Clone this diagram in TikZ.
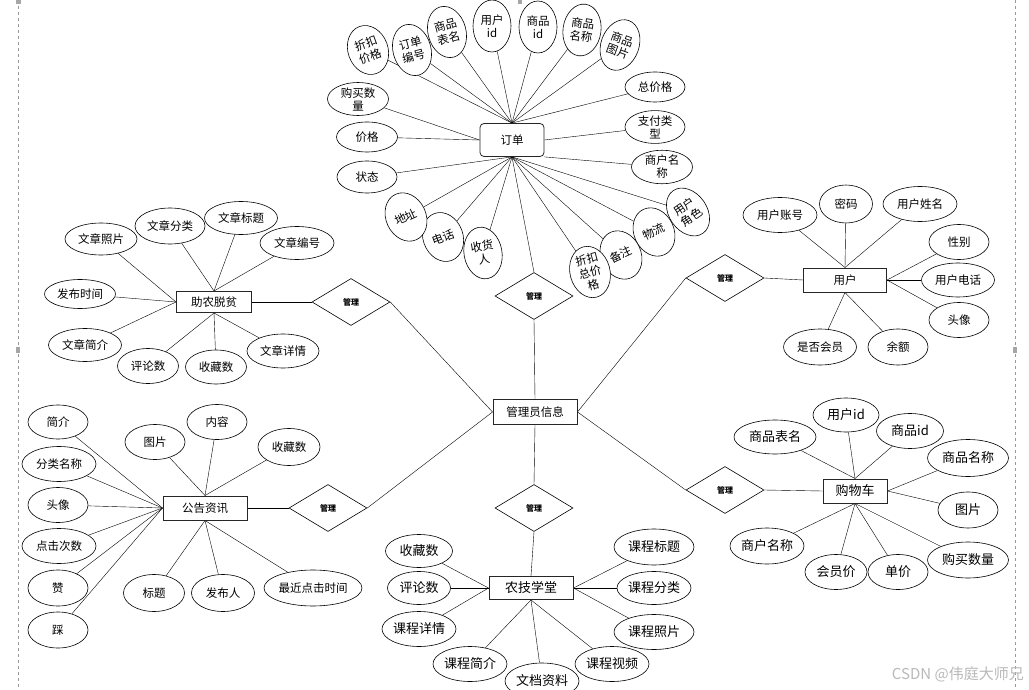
\documentclass[tikz,border=0pt]{standalone}
\usepackage{fontspec}
\newfontfamily\cjk{Noto Sans CJK SC}
\usetikzlibrary{shapes.geometric,backgrounds}
\newcommand\myfa{\cjk\fontsize{11.5}{13}\selectfont}
\newcommand\myfb{\cjk\fontsize{13}{15}\selectfont}
\begin{document}
\begin{tikzpicture}[x=1pt,y=-1pt,
  attr/.style n args={2}{ellipse, draw, line width=0.6pt, fill=white, inner sep=0pt,
     minimum width=#1, minimum height=#2, align=center, font=\myfa},
  ent/.style={rectangle, draw=black!85, line width=1pt, fill=white, inner sep=0pt, align=center, font=\myfa},
  rel/.style={diamond, draw, line width=0.6pt, fill=white, inner sep=0pt, minimum width=78pt, minimum height=47pt,
     font=\cjk\bfseries\fontsize{8}{9}\selectfont},
  conn/.style={line width=0.6pt}]
\useasboundingbox (0,0) rectangle (1029,690);

% ---------------- order
\node[ent, rounded corners=4pt, minimum width=64pt, minimum height=33pt, line width=0.8pt] (ord) at (512,140) {订单};
\node[attr={40pt}{50pt}, rotate=20] (zk1) at (368,50) {折扣\\价格};
\node[attr={38pt}{52pt}, rotate=15] (ddbh) at (412,50) {订单\\编号};
\node[attr={38pt}{52pt}, rotate=15] (spbm) at (447,32) {商品\\表名};
\node[attr={38pt}{52pt}] (yhid) at (492,26) {用户\\id};
\node[attr={38pt}{52pt}] (spid) at (538,27) {商品\\id};
\node[attr={38pt}{52pt}, rotate=-8] (spmc) at (582,30) {商品\\名称};
\node[attr={38pt}{52pt}, rotate=-20] (sptp) at (620,45) {商品\\图片};
\node[attr={60pt}{30pt}] (zjg) at (655,87) {总价格};
\node[attr={60pt}{31pt}] (zflx) at (655,127) {支付类\\型};
\node[attr={61pt}{32pt}] (shmc) at (662,167) {商户名\\称};
\node[attr={38pt}{52pt}, rotate=35] (yhjs) at (688,212) {用户\\角色};
\node[attr={40pt}{50pt}, rotate=25] (wl) at (654,232) {物流};
\node[attr={40pt}{50pt}, rotate=25] (bz) at (621,255) {备注};
\node[attr={40pt}{52pt}, rotate=15] (zkzj) at (590,272) {折扣\\总价\\格};
\node[attr={38pt}{52pt}, rotate=10] (shr) at (483,253) {收货\\人};
\node[attr={40pt}{50pt}, rotate=20] (dh) at (443,237) {电话};
\node[attr={40pt}{50pt}, rotate=25] (dz) at (406,217) {地址};
\node[attr={60pt}{32pt}] (zt) at (367,177) {状态};
\node[attr={61pt}{30pt}] (jg) at (367,137) {价格};
\node[attr={61pt}{31pt}] (gmsl) at (358,99) {购买数\\量};

% ---------------- admin and relations
\node[ent, minimum width=84pt, minimum height=25pt] (admin) at (535,412) {管理员信息};
\node[rel] (m1) at (534,296) {管理};
\node[rel] (m2) at (351,302) {管理};
\node[rel] (m3) at (725,278) {管理};
\node[rel] (m4) at (328,508) {管理};
\node[rel] (m5) at (725,490) {管理};
\node[rel] (m6) at (534,508) {管理};

% ---------------- entities
\node[ent, minimum width=75pt, minimum height=21pt] (zn) at (214,302) {助农脱贫};
\node[ent, minimum width=83pt, minimum height=24pt] (yh) at (845,280) {用户};
\node[ent, minimum width=84pt, minimum height=24pt] (gg) at (205,508) {公告资讯};
\node[ent, minimum width=64pt, minimum height=24pt, font=\myfb] (gwc) at (855,491) {购物车};
\node[ent, minimum width=84pt, minimum height=23pt, font=\myfb] (nj) at (531,588) {农技学堂};

% ---------------- 助农脱贫 attributes
\node[attr={72pt}{32pt}] (wzzp) at (101,239) {文章照片};
\node[attr={70pt}{36pt}] (wzfl) at (170,226) {文章分类};
\node[attr={73pt}{33pt}] (wzbt) at (241,218) {文章标题};
\node[attr={74pt}{33pt}] (wzbh) at (297,243) {文章编号};
\node[attr={71pt}{29pt}] (fbsj) at (80,294) {发布时间};
\node[attr={73pt}{33pt}] (wzjj) at (85,345) {文章简介};
\node[attr={61pt}{35pt}] (pls) at (148,366) {评论数};
\node[attr={61pt}{34pt}] (scs) at (216,367) {收藏数};
\node[attr={72pt}{34pt}] (wzxq) at (283,351) {文章详情};

% ---------------- 用户 attributes
\node[attr={74pt}{35pt}] (yhzh) at (780,215) {用户账号};
\node[attr={53pt}{38pt}] (mm) at (846,204) {密码};
\node[attr={74pt}{35pt}] (yhxm) at (920,204) {用户姓名};
\node[attr={60pt}{35pt}] (xb) at (959,242) {性别};
\node[attr={73pt}{34pt}] (yhdh) at (958,280) {用户电话};
\node[attr={60pt}{35pt}] (tx) at (959,320) {头像};
\node[attr={73pt}{36pt}] (sfhy) at (820,347) {是否会员};
\node[attr={60pt}{36pt}] (ye) at (898,347) {余额};

% ---------------- 公告资讯 attributes
\node[attr={60pt}{34pt}] (jj) at (58,422) {简介};
\node[attr={74pt}{35pt}] (flmc) at (59,464) {分类名称};
\node[attr={60pt}{35pt}] (txb) at (58,505) {头像};
\node[attr={74pt}{35pt}] (djcs) at (59,546) {点击次数};
\node[attr={60pt}{36pt}] (zan) at (58,588) {赞};
\node[attr={60pt}{36pt}] (cai) at (58,630) {踩};
\node[attr={60pt}{35pt}] (tp) at (155,442) {图片};
\node[attr={60pt}{35pt}] (nr) at (217,422) {内容};
\node[attr={62pt}{37pt}] (scsb) at (289,447) {收藏数};
\node[attr={61pt}{37pt}] (bt) at (154,593) {标题};
\node[attr={63pt}{37pt}] (fbr) at (223,593) {发布人};
\node[attr={98pt}{36pt}] (zjdj) at (313,588) {最近点击时间};

% ---------------- 购物车 attributes
\node[attr={82pt}{34pt}, font=\myfb] (spbmb) at (775,437) {商品表名};
\node[attr={66pt}{34pt}, font=\myfb] (yhidb) at (846,415) {用户id};
\node[attr={67pt}{35pt}, font=\myfb] (spidb) at (910,431) {商品id};
\node[attr={81pt}{37pt}, font=\myfb] (spmcb) at (968,458) {商品名称};
\node[attr={60pt}{36pt}, font=\myfb] (tpb) at (968,510) {图片};
\node[attr={81pt}{36pt}, font=\myfb] (gmslb) at (968,560) {购买数量};
\node[attr={60pt}{35pt}, font=\myfb] (dj) at (898,572) {单价};
\node[attr={62pt}{35pt}, font=\myfb] (hyj) at (836,572) {会员价};
\node[attr={74pt}{36pt}, font=\myfb] (shmcb) at (767,546) {商户名称};

% ---------------- 农技学堂 attributes
\node[attr={67pt}{33pt}, font=\myfb] (scsc) at (419,551) {收藏数};
\node[attr={63pt}{33pt}, font=\myfb] (plsc) at (419,588) {评论数};
\node[attr={74pt}{35pt}, font=\myfb] (kcxq) at (419,629) {课程详情};
\node[attr={74pt}{35pt}, font=\myfb] (kcjj) at (470,664) {课程简介};
\node[attr={74pt}{36pt}, font=\myfb] (wdzl) at (542,681) {文档资料};
\node[attr={74pt}{35pt}, font=\myfb] (kcsp) at (612,664) {课程视频};
\node[attr={80pt}{35pt}, font=\myfb] (kczp) at (654,632) {课程照片};
\node[attr={74pt}{33pt}, font=\myfb] (kcfl) at (654,588) {课程分类};
\node[attr={80pt}{36pt}, font=\myfb] (kcbt) at (654,547) {课程标题};

% ---------------- watermark
\node[anchor=base east, text=gray!55, font=\cjk\fontsize{15}{17}\selectfont, inner sep=0pt] (wm) at (1024,679) {CSDN @伟庭大师兄};

% ---------------- connectors and frame (behind the nodes)
\begin{scope}[on background layer, conn]
\fill[white] (0,0) rectangle (1029,690);
\draw[gray!80, line width=0.6pt, dash pattern=on 3pt off 3pt] (18,0) -- (18,690);
\draw[gray!80, line width=0.6pt, dash pattern=on 3pt off 3pt] (1015,0) -- (1015,690);
\fill[gray!70] (16,0) rectangle (21,4);
\fill[gray!70] (518,0) rectangle (522,4);
\fill[gray!70] (16,347) rectangle (20,353);
\fill[gray!70] (1013,347) rectangle (1017,353);
\foreach \a in {zk1,ddbh,spbm,yhid,spid,spmc,sptp,zjg} \draw (ord.north) -- (\a);
\foreach \a in {gmsl,jg} \draw (ord.west) -- (\a);
\foreach \a in {zt,dz,dh,shr,zkzj,bz,wl,yhjs} \draw (ord.south) -- (\a);
\draw (ord.south east) -- (shmc);
\draw (ord.east) -- (zflx);
\draw (ord.south) -- (m1.north);
\draw (m1.south) -- (admin.north);
\draw (zn.east) -- (m2.west);
\draw (m2.east) -- (admin.west);
\draw (m3.east) -- (yh.west);
\draw (m3.west) -- (admin.east);
\draw (gg.east) -- (m4.west);
\draw (m4.east) -- (admin.west);
\draw (m5.east) -- (gwc.west);
\draw (m5.west) -- (admin.east);
\draw (admin.south) -- (m6.north);
\draw (m6.south) -- (nj.north);
\foreach \a in {wzfl,wzbt,wzbh} \draw (zn.north) -- (\a);
\foreach \a in {wzzp,fbsj,wzjj} \draw (zn.west) -- (\a);
\foreach \a in {pls,scs,wzxq} \draw (zn.south) -- (\a);
\foreach \a in {yhzh,mm,yhxm} \draw (yh.north) -- (\a);
\foreach \a in {xb,yhdh,tx} \draw (yh.east) -- (\a);
\foreach \a in {sfhy,ye} \draw (yh.south) -- (\a);
\foreach \a in {jj,flmc,txb,djcs,zan,cai} \draw (gg.west) -- (\a);
\foreach \a in {tp,nr,scsb} \draw (gg.north) -- (\a);
\foreach \a in {bt,fbr,zjdj} \draw (gg.south) -- (\a);
\foreach \a in {spbmb,yhidb,spidb} \draw (gwc.north) -- (\a);
\foreach \a in {spmcb,tpb} \draw (gwc.east) -- (\a);
\foreach \a in {shmcb,hyj,dj,gmslb} \draw (gwc.south) -- (\a);
\foreach \a in {scsc,plsc,kcxq} \draw (nj.west) -- (\a);
\foreach \a in {kcjj,wdzl,kcsp} \draw (nj.south) -- (\a);
\foreach \a in {kcbt,kcfl,kczp} \draw (nj.east) -- (\a);
\end{scope}
\end{tikzpicture}
\end{document}
